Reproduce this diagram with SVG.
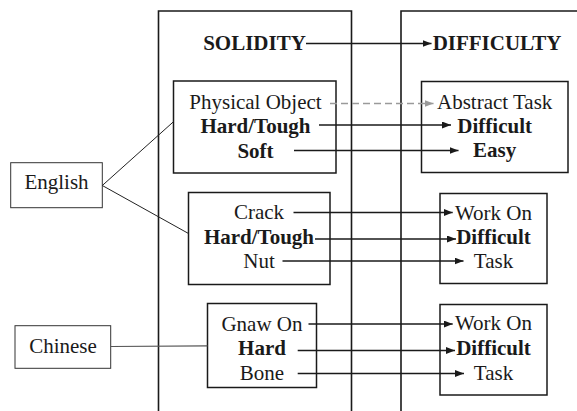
<svg xmlns="http://www.w3.org/2000/svg" width="577" height="411" viewBox="0 0 577 411">
  <defs>
    <marker id="arrow" markerUnits="userSpaceOnUse" markerWidth="10" markerHeight="8" refX="9" refY="3.5" orient="auto">
      <path d="M0,0 L9,3.5 L0,7 z" fill="#1a1a1a"/>
    </marker>
    <marker id="arrow-grey" markerUnits="userSpaceOnUse" markerWidth="10" markerHeight="8" refX="9" refY="3.5" orient="auto">
      <path d="M0,0 L9,3.5 L0,7 z" fill="#9a9a9a"/>
    </marker>
  </defs>
  <style>
    text { font-family: "Liberation Serif", "DejaVu Serif", "Times New Roman", serif; font-size: 21px; fill: #1a1a1a; text-anchor: middle; }
    .b { font-weight: bold; }
    .col { fill: none; stroke: #1a1a1a; stroke-width: 1.6; }
    .box { fill: #ffffff; stroke: #1a1a1a; stroke-width: 1.5; }
    .lang { fill: #ffffff; stroke: #333333; stroke-width: 1; }
    .link { fill: none; stroke: #1a1a1a; stroke-width: 1.5; marker-end: url(#arrow); }
    .dash { fill: none; stroke: #9a9a9a; stroke-width: 1.5; stroke-dasharray: 7 4; marker-end: url(#arrow-grey); }
    .tie { fill: none; stroke: #222222; stroke-width: 1; }
    .tie-grey { fill: none; stroke: #555555; stroke-width: 1.2; }
  </style>

  <rect width="577" height="411" fill="#ffffff"/>

  <!-- domain columns -->
  <g id="solidity-domain">
    <path class="col" d="M158.5,411 V11 H351.5 V411"/>
    <text class="b" x="254.5" y="50">SOLIDITY</text>
  </g>
  <g id="difficulty-domain">
    <path class="col" d="M401,411 V11 H580"/>
    <text class="b" x="497" y="50">DIFFICULTY</text>
  </g>

  <!-- language labels -->
  <g id="english">
    <rect class="lang" x="10.7" y="162.7" width="91.6" height="45"/>
    <text x="56.5" y="189">English</text>
  </g>
  <g id="chinese">
    <rect class="lang" x="15" y="325.7" width="95.7" height="42.6"/>
    <text x="63" y="352.5">Chinese</text>
  </g>

  <!-- source frames -->
  <g id="src-physical">
    <rect class="box" x="173.5" y="81" width="162.5" height="92"/>
    <text x="255.5" y="108.5">Physical Object</text>
    <text class="b" x="255.5" y="133">Hard/Tough</text>
    <text class="b" x="255.5" y="157.5">Soft</text>
  </g>
  <g id="src-crack">
    <rect class="box" x="188.5" y="192.5" width="141.5" height="92"/>
    <text x="259" y="219">Crack</text>
    <text class="b" x="259" y="243.5">Hard/Tough</text>
    <text x="259" y="267.5">Nut</text>
  </g>
  <g id="src-gnaw">
    <rect class="box" x="207.5" y="303.5" width="109" height="84"/>
    <text x="262" y="330.7">Gnaw On</text>
    <text class="b" x="262" y="355">Hard</text>
    <text x="262" y="380">Bone</text>
  </g>

  <!-- target frames -->
  <g id="tgt-abstract">
    <rect class="box" x="421.5" y="81.5" width="146.5" height="91"/>
    <text x="494.7" y="109">Abstract Task</text>
    <text class="b" x="494.7" y="133.3">Difficult</text>
    <text class="b" x="494.7" y="157">Easy</text>
  </g>
  <g id="tgt-work-1">
    <rect class="box" x="440" y="193.5" width="107" height="90"/>
    <text x="493.5" y="219.5">Work On</text>
    <text class="b" x="493.5" y="244">Difficult</text>
    <text x="493.5" y="268">Task</text>
  </g>
  <g id="tgt-work-2">
    <rect class="box" x="440" y="304.5" width="107" height="90.5"/>
    <text x="493.5" y="330">Work On</text>
    <text class="b" x="493.5" y="355">Difficult</text>
    <text x="493.5" y="380">Task</text>
  </g>

  <!-- connectors -->
  <g id="connectors">
    <path class="tie" d="M102.3,185.5 L173.5,121.7"/>
    <path class="tie" d="M102.3,185.5 L188.5,233.5"/>
    <path class="tie-grey" d="M110.7,346.5 L207.5,345.8"/>

    <path class="link" d="M306,43.5 H431.5"/>

    <path class="dash" d="M330,103.5 H433.5"/>
    <path class="link" d="M319,125 H451"/>
    <path class="link" d="M294,150.5 H458.5"/>

    <path class="link" d="M293.5,212.5 H452.7"/>
    <path class="link" d="M315,239 H456"/>
    <path class="link" d="M282.5,261 H463.5"/>

    <path class="link" d="M308.5,324 H452.7"/>
    <path class="link" d="M297.7,350.5 H455"/>
    <path class="link" d="M297.7,373.5 H464"/>
  </g>
</svg>
